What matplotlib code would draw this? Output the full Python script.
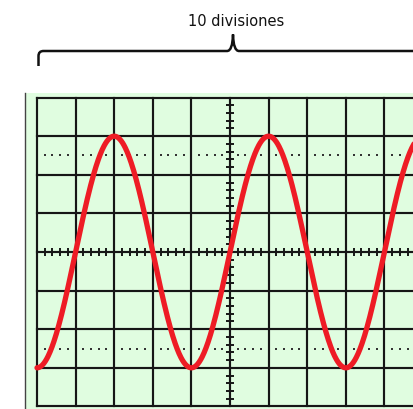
import numpy as np
import matplotlib
matplotlib.use("Agg")
import matplotlib.pyplot as plt
from matplotlib.collections import LineCollection
from matplotlib.path import Path
from matplotlib.patches import PathPatch, Rectangle

# Screen: 10 horizontal x 8 vertical divisions, 5 sub-divisions on the centre axes
n_div_x = 10
n_div_y = 8
n_sub = 5

# Displayed signal, in divisions
amplitude_div = 3.0      # peak height
period_div = 4.0         # one cycle spans four divisions
phase_start = "trough"   # trace starts at its minimum on the left edge

# Dotted reference rows (divisions from centre)
ref_rows = [2.5, -2.5]

title_text = "10 divisiones"

# ---- figure geometry (pixels) ----
W, H, DPI = 414, 409, 100
div_px = 38.6
x0_px, yc_px = 37.0, 252.0

fig = plt.figure(figsize=(W / DPI, H / DPI), dpi=DPI)
fig.patch.set_facecolor("white")

ax = fig.add_axes([0, 0, 1, 1])
ax.set_xlim(-x0_px / div_px, (W - x0_px) / div_px)
ax.set_ylim(-(H - yc_px) / div_px, yc_px / div_px)
ax.axis("off")

half_y = n_div_y / 2
line_col = "#161616"
lw_grid = 1.55

# screen background panel
ax.add_patch(Rectangle((-0.31, -5), 12, 5 + 4.12, facecolor="#e0fde0",
                       edgecolor="none", zorder=0))
ax.plot([-0.30, -0.30], [-5, 4.12], color="#444444", lw=1.0, zorder=1)

# major grid
for i in range(n_div_x + 1):
    ax.plot([i, i], [-half_y, half_y], color=line_col, lw=lw_grid,
            solid_capstyle="projecting", zorder=2)
for j in range(n_div_y + 1):
    y = j - half_y
    ax.plot([0, n_div_x], [y, y], color=line_col, lw=lw_grid,
            solid_capstyle="projecting", zorder=2)

# centre-axis sub-division ticks
tick_half = 0.095
xc = n_div_x / 2
segs = []
for k in range(n_div_x * n_sub + 1):
    x = k / n_sub
    if k % n_sub:
        segs.append([(x, -tick_half), (x, tick_half)])
for k in range(n_div_y * n_sub + 1):
    y = k / n_sub - half_y
    if k % n_sub:
        segs.append([(xc - tick_half, y), (xc + tick_half, y)])
ax.add_collection(LineCollection(segs, colors=line_col, linewidths=1.4, zorder=2))

# dotted reference rows
dot_offsets = [0.2, 0.4, 0.6, 0.8]
for yr in ref_rows:
    xs = [i + o for i in range(n_div_x) for o in dot_offsets]
    ax.scatter(xs, [yr] * len(xs), s=2.6, marker="s", color="#333333",
               linewidths=0, zorder=2)

# signal trace
x = np.linspace(0, n_div_x, 800)
sign = -1.0 if phase_start == "trough" else 1.0
y = sign * amplitude_div * np.cos(2 * np.pi * x / period_div)
ax.plot(x, y, color="#ee1c25", lw=3.8, solid_capstyle="round", zorder=3)

# ---- brace and caption in pixel coordinates ----
deco = fig.add_axes([0, 0, 1, 1])
deco.set_xlim(0, W)
deco.set_ylim(H, 0)
deco.axis("off")
deco.patch.set_alpha(0)

yb = 51.0
verts = [(38.5, 66), (38.5, 56), (38.5, yb), (43.5, yb),
         (227, yb), (232.6, yb), (233, 34.5),
         (233.4, yb), (239, yb), (430, yb)]
codes = [Path.MOVETO, Path.LINETO, Path.CURVE3, Path.CURVE3,
         Path.LINETO, Path.CURVE3, Path.CURVE3,
         Path.CURVE3, Path.CURVE3, Path.LINETO]
deco.add_patch(PathPatch(Path(verts, codes), facecolor="none",
                         edgecolor="#111111", lw=1.8, capstyle="butt"))
deco.text(236, 21, title_text, ha="center", va="center", fontsize=10.5,
          color="#111111")

fig.savefig("out.png", dpi=DPI)
